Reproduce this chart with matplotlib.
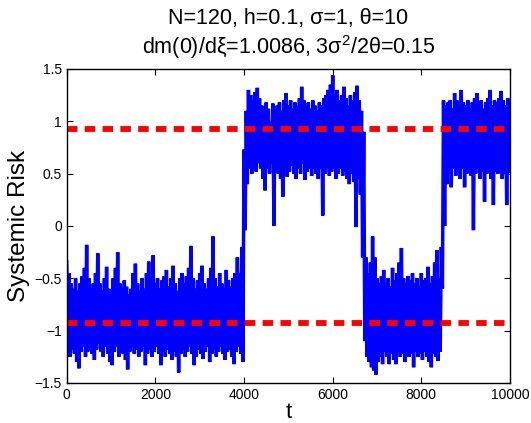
import matplotlib
matplotlib.use('Agg')
import matplotlib.pyplot as plt
import numpy as np

plt.rcParams['font.family'] = ['Liberation Sans', 'DejaVu Sans']
plt.rcParams['mathtext.fontset'] = 'custom'
plt.rcParams['mathtext.rm'] = 'Liberation Sans'
plt.rcParams['mathtext.it'] = 'Liberation Sans'

# each 50-step slot: top and bottom of the noisy band
slot = 50

# low state, slots t = 0 .. 3950
tops1 = [-0.34, -0.45, -0.55, -0.6, -0.5, -0.62, -0.55, -0.48, -0.4, -0.18,
         -0.5, -0.6, -0.55, -0.45, -0.26, -0.55, -0.62, -0.5, -0.39, -0.6,
         -0.65, -0.5, -0.4, -0.25, -0.55, -0.6, -0.52, -0.58, -0.65, -0.6,
         -0.45, -0.36, -0.55, -0.62, -0.5, -0.6, -0.45, -0.34, -0.5, -0.28,
         -0.55, -0.5, -0.6, -0.52, -0.48, -0.42, -0.58, -0.5, -0.38, -0.55,
         -0.62, -0.5, -0.45, -0.55, -0.48, -0.4, -0.19, -0.5, -0.6, -0.52,
         -0.45, -0.38, -0.55, -0.6, -0.5, -0.4, -0.1, -0.5, -0.58, -0.45,
         -0.55, -0.6, -0.42, -0.52, -0.58, -0.5, -0.45, -0.3, -0.45, -0.2]
bots1 = [-1.1, -1.25, -1.18, -1.22, -1.3, -1.36, -1.2, -1.15, -1.25, -1.2,
         -1.15, -1.22, -1.28, -1.18, -1.12, -1.2, -1.25, -1.15, -1.22, -1.3,
         -1.33, -1.2, -1.15, -1.25, -1.18, -1.22, -1.28, -1.37, -1.2, -1.15,
         -1.22, -1.18, -1.25, -1.2, -1.15, -1.33, -1.22, -1.18, -1.25, -1.2,
         -1.15, -1.22, -1.33, -1.2, -1.25, -1.18, -1.22, -1.28, -1.2, -1.25,
         -1.4, -1.22, -1.18, -1.25, -1.2, -1.15, -1.22, -1.33, -1.25, -1.18,
         -1.22, -1.27, -1.2, -1.15, -1.3, -1.22, -1.18, -1.25, -1.2, -1.15,
         -1.22, -1.28, -1.2, -1.18, -1.25, -1.32, -1.2, -1.15, -1.22, -1.3]

# high state, slots t = 4000 .. 6650
tops2 = [0.73, 1.1, 1.3, 1.25, 1.2, 1.28, 1.32, 1.22, 1.15, 1.1,
         1.18, 1.12, 1.0, 1.17, 1.1, 1.15, 1.18, 1.1, 1.2, 1.27,
         1.15, 1.2, 1.12, 1.18, 1.15, 1.22, 1.33, 1.2, 1.15, 1.18,
         1.12, 1.2, 1.15, 1.1, 1.18, 1.15, 1.22, 1.25, 1.3, 1.35,
         1.44, 1.25, 1.3, 1.2, 1.25, 1.33, 1.22, 1.15, 1.25, 1.2,
         1.28, 1.34, 1.2, 1.1]
bots2 = [-0.04, 0.4, 0.55, 0.5, 0.58, 0.52, 0.6, 0.55, 0.45, 0.34,
         0.55, 0.5, 0.6, 0.0, 0.55, 0.5, 0.45, 0.28, 0.55, 0.47,
         0.52, 0.58, 0.5, 0.45, 0.55, 0.5, 0.6, 0.44, 0.52, 0.55,
         0.48, 0.55, 0.5, 0.45, 0.55, 0.1, 0.5, 0.55, 0.48, 0.52,
         0.55, 0.45, 0.5, 0.55, 0.48, 0.52, 0.45, 0.4, 0.5, 0.42,
         -0.01, 0.45, 0.3, -0.3]

# low state, slots t = 6700 .. 8450
tops3 = [0.9, -0.3, -0.45, -0.35, -0.1, -0.3, -0.5, -0.55, -0.48, -0.42,
         -0.55, -0.5, -0.58, -0.4, -0.52, -0.45, -0.35, -0.21, -0.5, -0.55,
         -0.48, -0.52, -0.45, -0.55, -0.5, -0.58, -0.45, -0.52, -0.5, -0.39,
         -0.55, -0.48, -0.35, -0.23, -0.5, -0.2]
bots3 = [-1.1, -1.25, -1.3, -1.35, -1.38, -1.42, -1.3, -1.25, -1.32, -1.2,
         -1.25, -1.32, -1.22, -1.28, -1.32, -1.2, -1.25, -1.22, -1.3, -1.2,
         -1.25, -1.22, -1.35, -1.2, -1.25, -1.22, -1.28, -1.2, -1.25, -1.3,
         -1.35, -1.22, -1.25, -1.29, -1.2, -0.6]

# high state, slots t = 8500 .. 9950
tops4 = [1.2, 1.15, 1.18, 1.2, 1.12, 1.27, 1.2, 1.15, 1.3, 1.18,
         1.15, 1.2, 1.12, 1.18, 1.22, 1.27, 1.15, 1.2, 1.12, 1.18,
         1.22, 1.3, 1.15, 1.2, 1.18, 1.22, 1.29, 1.2, 1.15, 1.22]
bots4 = [0.0, 0.4, 0.5, 0.37, 0.55, 0.48, 0.52, 0.45, 0.55, 0.37,
         0.5, 0.55, 0.48, -0.04, 0.5, 0.55, 0.45, 0.52, 0.23, 0.5,
         0.55, 0.45, 0.2, 0.52, 0.5, 0.55, 0.45, 0.5, 0.2, 0.52]

m_star = 0.927  # stable equilibria +/- m*

tops = np.array(tops1 + tops2 + tops3 + tops4)
bots = np.array(bots1 + bots2 + bots3 + bots4)
# path visits the top of each slot, then its bottom
t = np.column_stack([np.arange(len(tops)) * slot,
                     np.arange(len(tops)) * slot + slot / 2]).ravel()
risk = np.column_stack([tops, bots]).ravel()

fig = plt.figure(figsize=(5.31, 4.23), dpi=100)
ax = fig.add_axes([0.1256, 0.0946, 0.8349, 0.7423])

ax.plot(t, risk, color='#0000ff', linewidth=2.5, solid_joinstyle='miter')
for lvl in (m_star, -m_star):
    ax.plot([0, 10000], [lvl, lvl], color='#ff0000', linewidth=4.2,
            linestyle=(0, (1.8, 1.25)), dash_capstyle='butt')

ax.set_xlim(0, 10000)
ax.set_ylim(-1.5, 1.5)
ax.set_xticks(np.arange(0, 10001, 2000))
ax.set_yticks([-1.5, -1, -0.5, 0, 0.5, 1, 1.5])
ax.set_yticklabels(['\u22121.5', '\u22121', '\u22120.5', '0', '0.5', '1', '1.5'])
ax.tick_params(direction='in', top=True, right=True, length=4, width=0.8,
               labelsize=10)
for s in ax.spines.values():
    s.set_linewidth(1.0)

ax.set_xlabel('t', fontsize=16, labelpad=0)
ax.set_ylabel('Systemic Risk', fontsize=17.5, labelpad=3)
ax.set_title('N=120, h=0.1, \u03c3=1, \u03b8=10\n'
             'dm(0)/d\u03be=1.0086, 3\u03c3$^2$/2\u03b8=0.15',
             fontsize=15.5, linespacing=1.2, pad=11)

fig.savefig('out.png', dpi=100)
